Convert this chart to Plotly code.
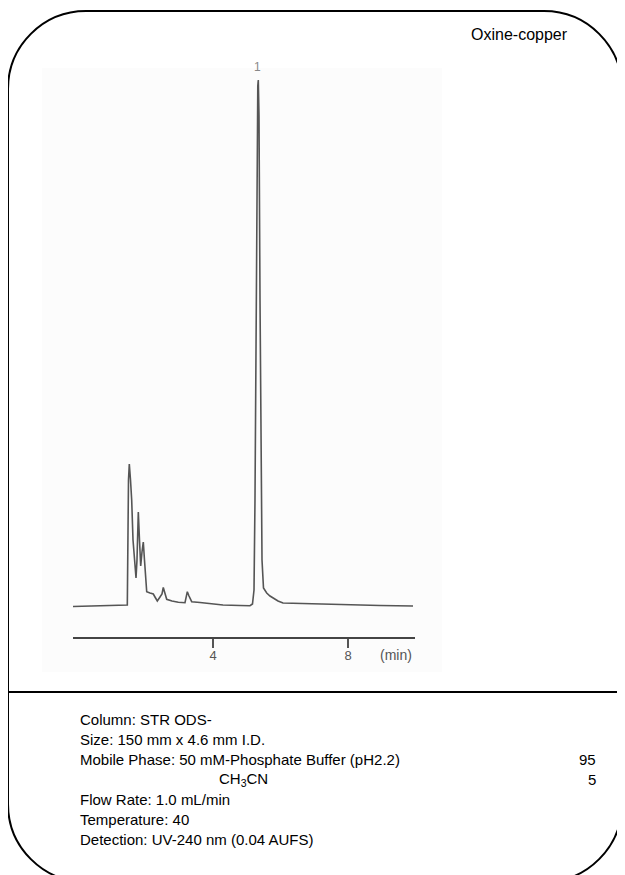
import plotly.graph_objects as go

# ---------------- data ----------------
time_min = [-0.15, 0.65, 1.422, 1.461, 1.496, 1.520, 1.556, 1.591, 1.630, 1.689, 1.719, 1.748,
            1.787, 1.822, 1.858, 1.896, 1.935, 1.970, 2.036, 2.133, 2.231, 2.281, 2.350, 2.430,
            2.489, 2.527, 2.578, 2.628, 2.785, 2.972, 3.170, 3.209, 3.239, 3.289, 3.369, 3.615,
            3.813, 4.296, 4.800, 5.096, 5.170, 5.215, 5.244, 5.274, 5.304, 5.327, 5.342, 5.363,
            5.393, 5.422, 5.452, 5.496, 5.591, 5.689, 5.778, 5.926, 6.074, 6.578, 7.467, 8.059,
            8.948, 9.926]
signal = [-0.5, 0, 0.5, 1, 126, 142, 126, 106, 66, 34, 28, 46,
          94, 66, 40, 54, 64, 46, 14.3, 13, 12, 9, 5, 9,
          12, 18.5, 12, 6.7, 5, 3.7, 3.3, 8, 14.3, 10, 4.3, 3.5,
          2.7, 1, 0.5, 0.3, 2, 16, 106, 306, 456, 520, 526, 490,
          306, 156, 46, 18, 13, 10, 8, 5, 3, 2.5, 2, 1.5,
          0.5, 0]

peak_labels = ["1"]
peak_times = [5.33]
peak_heights = [526]

tick_vals = [4, 8]
tick_text = ["4", "8"]
unit_label = "(min)"

title_text = "Oxine-copper"
cond_lines = [
    "Column: STR ODS-",
    "Size: 150 mm x 4.6 mm I.D.",
    "Mobile Phase: 50 mM-Phosphate Buffer (pH2.2)",
    "",
    "Flow Rate: 1.0 mL/min",
    "Temperature: 40",
    "Detection: UV-240 nm (0.04 AUFS)",
]
solvent_b = "CH<sub>3</sub>CN"
ratios = ["95", "5"]

# ---------------- layout helpers ----------------
W, H = 625, 875
OFF = 8  # page body margin of the html page
def px(x):
    return (x - OFF) / W
def py(y):
    return 1 - (y - OFF) / H

FONT = "Liberation Sans, Arial, sans-serif"

fig = go.Figure()
fig.add_trace(go.Scatter(x=time_min, y=signal, mode="lines",
                         line=dict(color="#555555", width=1.6), hoverinfo="skip",
                         showlegend=False))

# rounded frame
Lf, Rf, Tf, Bf, r = 8, 622, 11, 882, 78
c = 0.5523 * r
pts = [
    ("M", [(Lf + r, Tf)]),
    ("L", [(Rf - r, Tf)]),
    ("C", [(Rf - r + c, Tf), (Rf, Tf + r - c), (Rf, Tf + r)]),
    ("L", [(Rf, Bf - r)]),
    ("C", [(Rf, Bf - r + c), (Rf - r + c, Bf), (Rf - r, Bf)]),
    ("L", [(Lf + r, Bf)]),
    ("C", [(Lf + r - c, Bf), (Lf, Bf - r + c), (Lf, Bf - r)]),
    ("L", [(Lf, Tf + r)]),
    ("C", [(Lf, Tf + r - c), (Lf + r - c, Tf), (Lf + r, Tf)]),
]
path = ""
for cmd, ps in pts:
    path += cmd + " " + " ".join(f"{px(a):.5f},{py(b):.5f}" for a, b in ps) + " "
path += "Z"

shapes = [
    dict(type="rect", xref="paper", yref="paper", x0=px(42), x1=px(442), y0=py(672), y1=py(68),
         fillcolor="#fcfcfc", line=dict(width=0), layer="below"),
    dict(type="path", xref="paper", yref="paper", path=path, line=dict(color="black", width=2)),
    dict(type="line", xref="paper", yref="paper", x0=px(8), x1=px(Rf), y0=py(692), y1=py(692),
         line=dict(color="black", width=2)),
]

annotations = [
    dict(text=title_text, xref="paper", yref="paper", x=px(469), y=py(35), xanchor="left",
         yanchor="middle", showarrow=False, font=dict(family=FONT, size=16, color="black")),
    dict(text=unit_label, xref="x", yref="paper", x=9.42, y=py(655), xanchor="center",
         yanchor="middle", showarrow=False, font=dict(family=FONT, size=14, color="#555555")),
]
for lab, t, h in zip(peak_labels, peak_times, peak_heights):
    annotations.append(dict(text=lab, x=t, y=h, yshift=13, xref="x", yref="y", showarrow=False,
                            xanchor="center", yanchor="middle",
                            font=dict(family=FONT, size=12, color="#888888")))

y0, dy = 719, 20
for i, line in enumerate(cond_lines):
    if line:
        annotations.append(dict(text=line, xref="paper", yref="paper", x=px(78), y=py(y0 + i * dy),
                                xanchor="left", yanchor="middle", showarrow=False,
                                font=dict(family=FONT, size=15, color="black")))
annotations.append(dict(text=solvent_b, xref="paper", yref="paper", x=px(217), y=py(y0 + 3 * dy),
                        xanchor="left", yanchor="middle", showarrow=False,
                        font=dict(family=FONT, size=15, color="black")))
for j, rt in enumerate(ratios):
    annotations.append(dict(text=rt, xref="paper", yref="paper", x=px(598), y=py(y0 + (2 + j) * dy),
                            xanchor="right", yanchor="middle", showarrow=False,
                            font=dict(family=FONT, size=15, color="black")))

fig.update_layout(
    width=W, height=H, margin=dict(l=0, r=0, t=0, b=0),
    paper_bgcolor="white", plot_bgcolor="rgba(0,0,0,0)",
    showlegend=False, shapes=shapes, annotations=annotations,
    xaxis=dict(domain=[px(73), px(415)], range=[-0.148, 9.985], showgrid=False, zeroline=False,
               showline=True, linecolor="#444444", linewidth=2, ticks="outside", ticklen=9,
               tickwidth=1.5, tickcolor="#555555", tickvals=tick_vals, ticktext=tick_text,
               ticklabelstandoff=-4,
               tickfont=dict(family=FONT, size=13, color="#555555"), fixedrange=True),
    yaxis=dict(domain=[py(637), py(60)], range=[-31, 546], visible=False, showgrid=False,
               zeroline=False, fixedrange=True),
)

fig.write_html("out.html")
